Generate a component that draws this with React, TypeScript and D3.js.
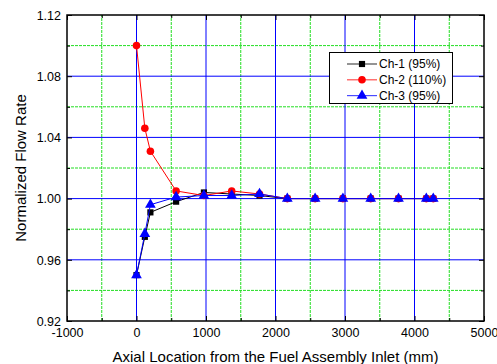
import React, { useRef, useEffect } from 'react';
import * as d3 from 'd3';

// Axial locations (mm) and normalized flow rate per channel
const axialLocations = [0, 120, 200, 570, 970, 1370, 1770, 2170, 2570, 2970, 3370, 3770, 4170, 4270];
const ch1 = [0.950, 0.975, 0.991, 0.998, 1.004, 1.003, 1.002, 1.000, 1.000, 1.000, 1.000, 1.000, 1.000, 1.000];
const ch2 = [1.100, 1.046, 1.031, 1.005, 1.002, 1.005, 1.003, 1.000, 1.000, 1.000, 1.000, 1.000, 1.000, 1.000];
const ch3 = [0.950, 0.977, 0.996, 1.001, 1.002, 1.002, 1.003, 1.000, 1.000, 1.000, 1.000, 1.000, 1.000, 1.000];
const seriesNames = ['Ch-1 (95%)', 'Ch-2 (110%)', 'Ch-3 (95%)'];
const seriesColors = ['#000000', '#ff0000', '#0000ff'];
const xMajorTicks = [-1000, 0, 1000, 2000, 3000, 4000, 5000];
const yMajorTicks = [0.92, 0.96, 1.00, 1.04, 1.08, 1.12];

function App() {
  const ref = useRef<SVGSVGElement>(null);

  useEffect(() => {
    const svg = d3.select(ref.current);
    svg.selectAll('*').remove();

    const width = 497;
    const height = 364;
    const margin = { top: 15, right: 13, bottom: 43, left: 67 };
    const font = 'Liberation Sans, Arial, sans-serif';

    const x = d3.scaleLinear().domain([-1000, 5000]).range([margin.left, width - margin.right]);
    const y = d3.scaleLinear().domain([0.92, 1.12]).range([height - margin.bottom, margin.top]);

    const xMinor = d3.range(-500, 5000, 1000);
    const yMinor = [0.94, 0.98, 1.02, 1.06, 1.10];

    const grid = svg.append('g');
    // minor grid (green dotted)
    grid.selectAll('.xm').data(xMinor).enter().append('line')
      .attr('x1', d => x(d)).attr('x2', d => x(d))
      .attr('y1', y(0.92)).attr('y2', y(1.12))
      .attr('stroke', '#22dd22').attr('stroke-width', 1).attr('stroke-dasharray', '3,1');
    grid.selectAll('.ym').data(yMinor).enter().append('line')
      .attr('x1', x(-1000)).attr('x2', x(5000))
      .attr('y1', d => y(d)).attr('y2', d => y(d))
      .attr('stroke', '#22dd22').attr('stroke-width', 1).attr('stroke-dasharray', '3,1');
    // major grid (blue)
    grid.selectAll('.xM').data(xMajorTicks.slice(1, -1)).enter().append('line')
      .attr('x1', d => x(d)).attr('x2', d => x(d))
      .attr('y1', y(0.92)).attr('y2', y(1.12))
      .attr('stroke', '#0000ff').attr('stroke-width', 1);
    grid.selectAll('.yM').data(yMajorTicks.slice(1, -1)).enter().append('line')
      .attr('x1', x(-1000)).attr('x2', x(5000))
      .attr('y1', d => y(d)).attr('y2', d => y(d))
      .attr('stroke', '#0000ff').attr('stroke-width', 1);

    // axes with inward ticks
    const axes = svg.append('g');
    const bottom = axes.append('g').attr('transform', `translate(0,${y(0.92)})`)
      .call(d3.axisBottom(x).tickValues(xMajorTicks).tickFormat(d => String(d)).tickSizeInner(-5).tickSizeOuter(0).tickPadding(12));
    const left = axes.append('g').attr('transform', `translate(${x(-1000)},0)`)
      .call(d3.axisLeft(y).tickValues(yMajorTicks).tickFormat(d3.format('.2f')).tickSizeInner(-5).tickSizeOuter(0).tickPadding(6));
    axes.append('g').attr('transform', `translate(0,${y(1.12)})`)
      .call(d3.axisTop(x).tickValues(xMajorTicks).tickFormat(() => '').tickSizeInner(-5).tickSizeOuter(0));
    axes.append('g').attr('transform', `translate(${x(5000)},0)`)
      .call(d3.axisRight(y).tickValues(yMajorTicks).tickFormat(() => '').tickSizeInner(-5).tickSizeOuter(0));
    // minor ticks
    axes.append('g').attr('transform', `translate(0,${y(0.92)})`)
      .call(d3.axisBottom(x).tickValues(xMinor).tickFormat(() => '').tickSizeInner(-3).tickSizeOuter(0));
    axes.append('g').attr('transform', `translate(0,${y(1.12)})`)
      .call(d3.axisTop(x).tickValues(xMinor).tickFormat(() => '').tickSizeInner(-3).tickSizeOuter(0));
    axes.append('g').attr('transform', `translate(${x(-1000)},0)`)
      .call(d3.axisLeft(y).tickValues(yMinor).tickFormat(() => '').tickSizeInner(-3).tickSizeOuter(0));
    axes.append('g').attr('transform', `translate(${x(5000)},0)`)
      .call(d3.axisRight(y).tickValues(yMinor).tickFormat(() => '').tickSizeInner(-3).tickSizeOuter(0));
    axes.selectAll('.domain').remove();
    // d3.axis sets its own font on each group, so override on the texts
    axes.selectAll('text').attr('fill', '#000')
      .attr('font-family', font).attr('font-size', 12.5);
    bottom.selectAll('text').attr('dy', '0.35em');
    left.selectAll('text').attr('dy', '0.35em');

    // frame
    svg.append('rect')
      .attr('x', x(-1000)).attr('y', y(1.12))
      .attr('width', x(5000) - x(-1000)).attr('height', y(0.92) - y(1.12))
      .attr('fill', 'none').attr('stroke', '#000').attr('stroke-width', 1.5);

    // titles
    svg.append('text')
      .attr('x', (x(-1000) + x(5000)) / 2).attr('y', 361.5)
      .attr('text-anchor', 'middle').attr('font-family', font).attr('font-size', 15)
      .text('Axial Location from the Fuel Assembly Inlet (mm)');
    svg.append('text')
      .attr('transform', `translate(26,${(y(0.92) + y(1.12)) / 2}) rotate(-90)`)
      .attr('text-anchor', 'middle').attr('font-family', font).attr('font-size', 15)
      .text('Normalized Flow Rate');

    const symbols = [d3.symbolSquare, d3.symbolCircle, d3.symbolTriangle];
    const symbolSizes = [38, 45, 50];
    const allSeries = [ch1, ch2, ch3];

    allSeries.forEach((vals, i) => {
      const pts = axialLocations.map((d, j) => [d, vals[j]] as [number, number]);
      const line = d3.line<[number, number]>().x(d => x(d[0])).y(d => y(d[1]));
      svg.append('path').datum(pts)
        .attr('d', line)
        .attr('fill', 'none').attr('stroke', seriesColors[i]).attr('stroke-width', 1);
      svg.append('g').selectAll('path').data(pts).enter().append('path')
        .attr('transform', d => `translate(${x(d[0])},${y(d[1])})`)
        .attr('d', d3.symbol(symbols[i], symbolSizes[i]))
        .attr('fill', seriesColors[i]);
    });

    // legend
    const lg = svg.append('g').attr('font-family', font).attr('font-size', 12);
    lg.append('rect').attr('x', 329.5).attr('y', 52.5).attr('width', 123).attr('height', 51)
      .attr('fill', '#fff').attr('stroke', '#000').attr('stroke-width', 1);
    seriesNames.forEach((name, i) => {
      const ly = 64 + i * 15.8;
      lg.append('line').attr('x1', 347).attr('x2', 377).attr('y1', ly).attr('y2', ly)
        .attr('stroke', seriesColors[i]).attr('stroke-width', 1.2).attr('opacity', 0.7);
      lg.append('path').attr('transform', `translate(362,${ly})`)
        .attr('d', d3.symbol(symbols[i], symbolSizes[i]))
        .attr('fill', seriesColors[i]);
      lg.append('text').attr('x', 379).attr('y', ly).attr('dy', '0.35em').text(name);
    });
  }, []);

  return (
    <svg ref={ref} width={497} height={364}
      style={{ position: 'absolute', left: 0, top: 0, background: '#fff' }} />
  );
}

export default App;
